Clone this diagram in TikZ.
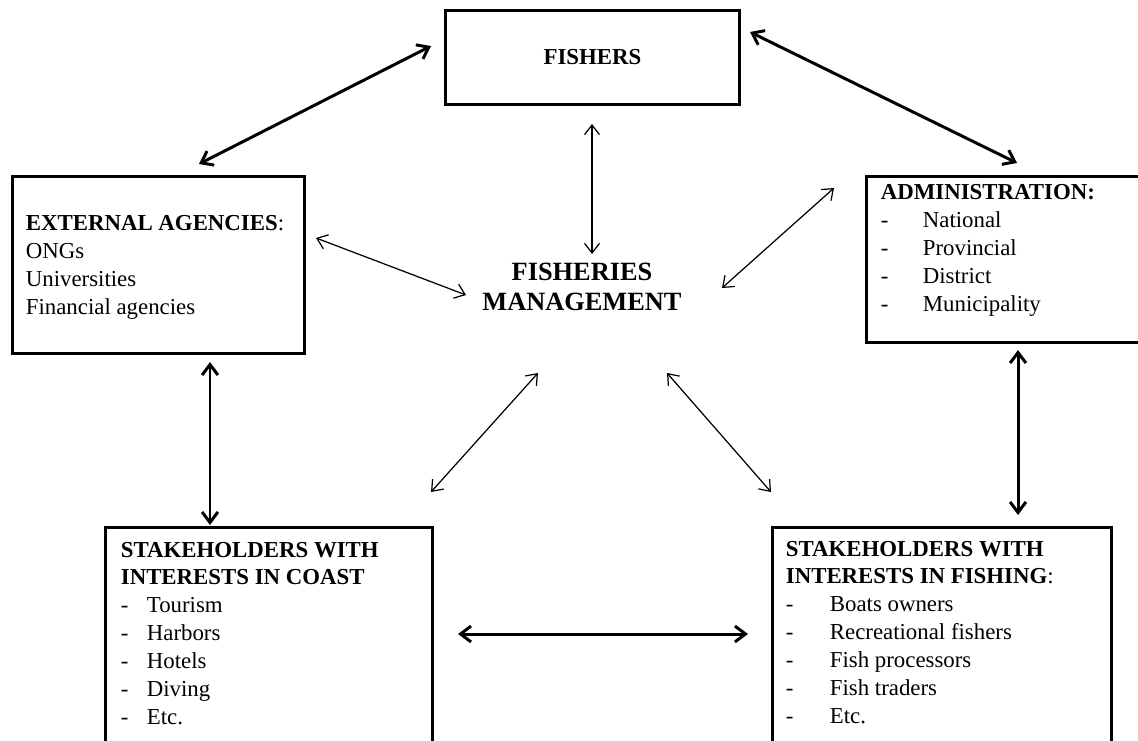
\documentclass[tikz,border=0pt]{standalone}
\usepackage{fontspec}
\setmainfont{Liberation Serif}
\usetikzlibrary{arrows.meta,positioning}
\tikzset{
  box/.style={rectangle,draw=black,line width=1.7pt,inner sep=0pt,
    font=\bfseries\fontsize{13}{15.9}\selectfont},
  boxtext/.style={inner sep=0pt,align=left,anchor=north west,
    font=\fontsize{13}{15.9}\selectfont},
  bigarrow/.style={{Straight Barb[length=6pt,width=9pt]}-{Straight Barb[length=6pt,width=9pt]},line width=1.7pt},
  smallarrow/.style={{Straight Barb[length=5.5pt,width=8.5pt]}-{Straight Barb[length=5.5pt,width=8.5pt]},line width=0.7pt},
}
\newcommand{\dashitem}[2]{\makebox[#1][l]{-}#2}
\begin{document}
\begin{tikzpicture}[x=0.02cm,y=-0.02cm]
  \clip (0,0) rectangle (1138,740);
  % boxes
  \node[box,minimum width=5.9cm,minimum height=1.9cm] (fishers) at (592.5,57.5) {FISHERS};
  \node[box,minimum width=5.86cm,minimum height=3.56cm] (ext) at (158.5,265) {};
  \node[box,minimum width=5.68cm,minimum height=3.34cm] (adm) at (1008,259.5) {};
  \node[box,minimum width=6.56cm,minimum height=4.66cm] (cst) at (269,643.5) {};
  \node[box,minimum width=6.8cm,minimum height=4.66cm] (fsh) at (942,643.5) {};
  \node[font=\bfseries\fontsize{15}{17}\selectfont,align=center] (mgmt) at (582,287) {FISHERIES\\MANAGEMENT};
  % box texts
  \node[boxtext,below right=0.82cm and 0.3cm of ext.north west] (exttxt) {
    \textbf{EXTERNAL AGENCIES}:\\ONGs\\Universities\\Financial agencies};
  \node[boxtext,below right=0.2cm and 0.32cm of adm.north west] (admtxt) {
    \textbf{ADMINISTRATION:}\\\dashitem{0.84cm}{National}\\\dashitem{0.84cm}{Provincial}\\
    \dashitem{0.84cm}{District}\\\dashitem{0.84cm}{Municipality}};
  \node[boxtext,below right=0.32cm and 0.34cm of cst.north west] (csttxt) {
    \textbf{STAKEHOLDERS WITH}\\\textbf{INTERESTS IN COAST}\\\dashitem{0.52cm}{Tourism}\\
    \dashitem{0.52cm}{Harbors}\\\dashitem{0.52cm}{Hotels}\\\dashitem{0.52cm}{Diving}\\\dashitem{0.52cm}{Etc.}};
  \node[boxtext,below right=0.3cm and 0.3cm of fsh.north west] (fshtxt) {
    \textbf{STAKEHOLDERS WITH}\\\textbf{INTERESTS IN FISHING}:\\\dashitem{0.88cm}{Boats owners}\\
    \dashitem{0.88cm}{Recreational fishers}\\\dashitem{0.88cm}{Fish processors}\\
    \dashitem{0.88cm}{Fish traders}\\\dashitem{0.88cm}{Etc.}};
  % arrow ends
  \coordinate (fe) at (431,46);   \coordinate (ef) at (199,164);
  \coordinate (fa) at (750,32);   \coordinate (af) at (1017,163);
  \coordinate (ec) at (210,362);  \coordinate (ce) at (210,525);
  \coordinate (ah) at (1018,350); \coordinate (ha) at (1018,515);
  \coordinate (ch) at (458,634);  \coordinate (hc) at (748,634);
  \coordinate (fm) at (592,124);  \coordinate (mf) at (592,254);
  \coordinate (em) at (316,238);  \coordinate (me) at (466,295);
  \coordinate (am) at (834,188);  \coordinate (ma) at (722,288);
  \coordinate (mc) at (538,373);  \coordinate (cm) at (431,492);
  \coordinate (mh) at (667,373);  \coordinate (hm) at (771,492);
  % connectors
  \draw[bigarrow] (fe) -- (ef);
  \draw[bigarrow] (fa) -- (af);
  \draw[bigarrow] (ec) -- (ce);
  \draw[bigarrow] (ah) -- (ha);
  \draw[bigarrow] (ch) -- (hc);
  \draw[smallarrow] (fm) -- (mf);
  \draw[smallarrow] (em) -- (me);
  \draw[smallarrow] (am) -- (ma);
  \draw[smallarrow] (mc) -- (cm);
  \draw[smallarrow] (mh) -- (hm);
\end{tikzpicture}
\end{document}
